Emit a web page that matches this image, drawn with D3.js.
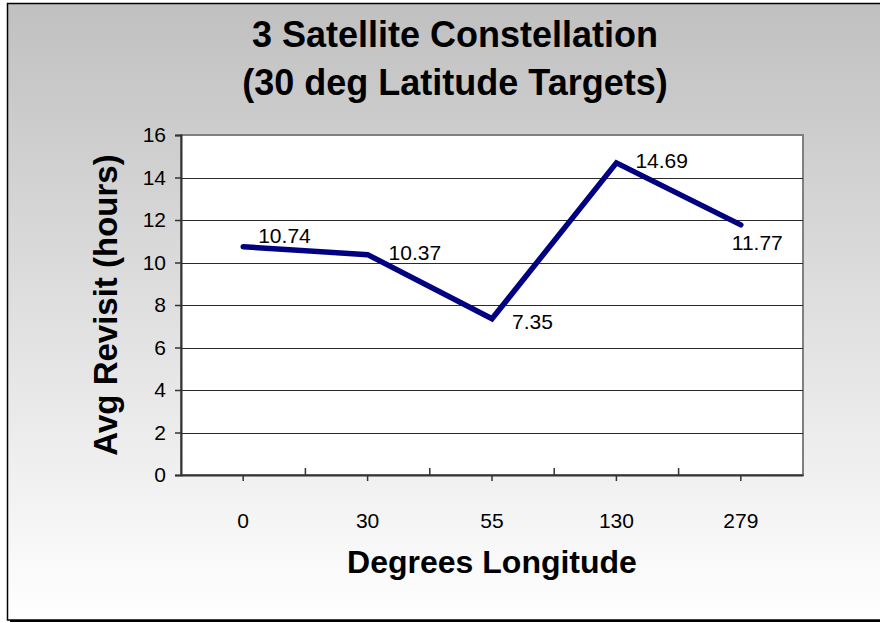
<!DOCTYPE html>
<html><head><meta charset="utf-8">
<script src="https://cdn.jsdelivr.net/npm/d3@7"></script>
<style>body{margin:0;background:#fff;overflow:hidden}svg{display:block}</style>
</head><body>
<script>
const categories = ["0", "30", "55", "130", "279"];
const revisitHours = [10.74, 10.37, 7.35, 14.69, 11.77];
const yTicks = [0, 2, 4, 6, 8, 10, 12, 14, 16];
const titleLines = ["3 Satellite Constellation", "(30 deg Latitude Targets)"];
const xTitle = "Degrees Longitude";
const yTitle = "Avg Revisit (hours)";
// label placement offsets (style only)
const labelOffsets = [[15, -4], [21, 5], [20, 10], [19, 5], [-9, 25]];

const W = 880, H = 623;
const m = {left: 181, right: 803, top: 135, bottom: 475};
const font = "'Liberation Sans', Arial, sans-serif";

const svg = d3.select("body").append("svg").attr("width", W).attr("height", H);
const defs = svg.append("defs");
const grad = defs.append("linearGradient").attr("id", "bg").attr("x1", 0).attr("y1", 0).attr("x2", 0).attr("y2", 1);
grad.append("stop").attr("offset", "0%").attr("stop-color", "#c0c0c0");
grad.append("stop").attr("offset", "100%").attr("stop-color", "#ffffff");

svg.append("rect").attr("x", 7.5).attr("y", 3.5).attr("width", 890).attr("height", 616.5)
  .attr("fill", "url(#bg)").attr("stroke", "#000").attr("stroke-width", 1.5);
svg.append("line").attr("x1", 10).attr("x2", 880).attr("y1", 621).attr("y2", 621)
  .attr("stroke", "#000").attr("stroke-width", 2);

const x = d3.scaleBand().domain(categories).range([m.left, m.right]);
const y = d3.scaleLinear().domain([0, 16]).range([m.bottom, m.top]);

// plot area
svg.append("rect").attr("x", m.left).attr("y", m.top).attr("width", m.right - m.left).attr("height", m.bottom - m.top)
  .attr("fill", "#fff").attr("stroke", "#808080").attr("stroke-width", 2);

// gridlines
svg.append("g").selectAll("line").data(yTicks.filter(d => d > 0 && d < 16)).join("line")
  .attr("x1", m.left).attr("x2", m.right)
  .attr("y1", d => Math.round(y(d)) + 0.5).attr("y2", d => Math.round(y(d)) + 0.5)
  .attr("stroke", "#2a2a2a").attr("stroke-width", 1);

// y axis
const yAxis = svg.append("g").attr("transform", `translate(${m.left},0)`)
  .call(d3.axisLeft(y).tickValues(yTicks).tickSize(6).tickPadding(9).tickFormat(d3.format("d")));
yAxis.select(".domain").attr("stroke", "#333").attr("stroke-width", 2);
yAxis.selectAll(".tick line").attr("stroke", "#333").attr("stroke-width", 1.5);
yAxis.selectAll("text").attr("font-family", font).attr("font-size", 21).attr("fill", "#000");

// x axis
const xAxis = svg.append("g").attr("transform", `translate(0,${m.bottom})`)
  .call(d3.axisBottom(x).tickSize(6).tickPadding(32).tickSizeOuter(0));
xAxis.select(".domain").attr("stroke", "#333").attr("stroke-width", 2);
xAxis.selectAll(".tick line").attr("stroke", "#333").attr("stroke-width", 1.5);
xAxis.selectAll("text").attr("font-family", font).attr("font-size", 21).attr("fill", "#000");
// inner ticks at category boundaries
svg.append("g").selectAll("line").data(categories.slice(1)).join("line")
  .attr("x1", d => x(d)).attr("x2", d => x(d)).attr("y1", m.bottom).attr("y2", m.bottom - 7)
  .attr("stroke", "#333").attr("stroke-width", 1.5);

// line
const line = d3.line().x((d, i) => x(categories[i]) + x.bandwidth() / 2).y(d => y(d));
svg.append("path").datum(revisitHours).attr("d", line)
  .attr("fill", "none").attr("stroke", "#000080").attr("stroke-width", 5.5)
  .attr("stroke-linejoin", "miter").attr("stroke-linecap", "round");

// data labels
svg.append("g").selectAll("text").data(revisitHours).join("text")
  .attr("x", (d, i) => x(categories[i]) + x.bandwidth() / 2 + labelOffsets[i][0])
  .attr("y", (d, i) => y(d) + labelOffsets[i][1])
  .attr("font-family", font).attr("font-size", 21).attr("fill", "#000")
  .text(d => d.toFixed(2));

// titles
svg.append("g").selectAll("text").data(titleLines).join("text")
  .attr("x", 455).attr("y", (d, i) => 47 + i * 48).attr("text-anchor", "middle")
  .attr("font-family", font).attr("font-weight", "bold").attr("font-size", 36).text(d => d);

svg.append("text").attr("x", 492).attr("y", 573).attr("text-anchor", "middle")
  .attr("font-family", font).attr("font-weight", "bold").attr("font-size", 32).text(xTitle);

svg.append("text").attr("transform", "translate(117,305) rotate(-90)").attr("text-anchor", "middle")
  .attr("font-family", font).attr("font-weight", "bold").attr("font-size", 33).text(yTitle);
</script>
</body></html>
